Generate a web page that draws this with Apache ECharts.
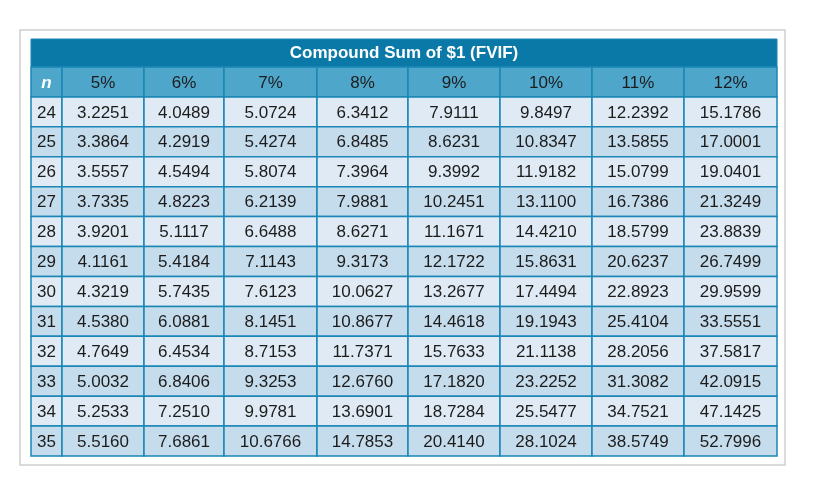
<!DOCTYPE html>
<html><head><meta charset="utf-8">
<script src="https://cdn.jsdelivr.net/npm/echarts@6/dist/echarts.min.js"></script>
<style>body{margin:0;background:#fff}#c{width:829px;height:492px}</style>
</head><body><div id="c"></div>
<script>
var rates = ['5%','6%','7%','8%','9%','10%','11%','12%'];
var periods = [24,25,26,27,28,29,30,31,32,33,34,35];
var r5  = ['3.2251','3.3864','3.5557','3.7335','3.9201','4.1161','4.3219','4.5380','4.7649','5.0032','5.2533','5.5160'];
var r6  = ['4.0489','4.2919','4.5494','4.8223','5.1117','5.4184','5.7435','6.0881','6.4534','6.8406','7.2510','7.6861'];
var r7  = ['5.0724','5.4274','5.8074','6.2139','6.6488','7.1143','7.6123','8.1451','8.7153','9.3253','9.9781','10.6766'];
var r8  = ['6.3412','6.8485','7.3964','7.9881','8.6271','9.3173','10.0627','10.8677','11.7371','12.6760','13.6901','14.7853'];
var r9  = ['7.9111','8.6231','9.3992','10.2451','11.1671','12.1722','13.2677','14.4618','15.7633','17.1820','18.7284','20.4140'];
var r10 = ['9.8497','10.8347','11.9182','13.1100','14.4210','15.8631','17.4494','19.1943','21.1138','23.2252','25.5477','28.1024'];
var r11 = ['12.2392','13.5855','15.0799','16.7386','18.5799','20.6237','22.8923','25.4104','28.2056','31.3082','34.7521','38.5749'];
var r12 = ['15.1786','17.0001','19.0401','21.3249','23.8839','26.7499','29.9599','33.5551','37.5817','42.0915','47.1425','52.7996'];
var columns = [r5, r6, r7, r8, r9, r10, r11, r12];

// relative column widths (n column narrow), used as edges on the value axis
var widths = [31, 82, 80, 93, 91, 92, 92, 92, 93];
var edges = [0];
widths.forEach(function (w, i) { edges.push(edges[i] + w); });

var cells = [];
cells.push([0, 0, 'n']);
rates.forEach(function (r, i) { cells.push([i + 1, 0, r]); });
periods.forEach(function (p, j) {
    cells.push([0, j + 1, String(p)]);
    columns.forEach(function (col, i) { cells.push([i + 1, j + 1, col[j]]); });
});

var chart = echarts.init(document.getElementById('c'));
chart.setOption({
    animation: false,
    graphic: [
        { type: 'rect', shape: { x: 20, y: 30, width: 765, height: 435 },
          style: { fill: '#fff', stroke: '#d0d0d0', lineWidth: 1.5 }, z: -10 },
        { type: 'rect', shape: { x: 31, y: 39, width: 746, height: 28 },
          style: { fill: '#0a79a8', stroke: '#1a86b5', lineWidth: 1 } },
        { type: 'text', x: 404, y: 53,
          style: { text: 'Compound Sum of $1 (FVIF)', fill: '#fff', font: 'bold 17px "Liberation Sans Narrow", "Liberation Sans", Arial',
                   align: 'center', verticalAlign: 'middle' } }
    ],
    grid: { left: 31, right: 52, top: 67, bottom: 36 },
    xAxis: { type: 'value', min: 0, max: edges[edges.length - 1], show: false },
    yAxis: { type: 'category', data: ['head'].concat(periods.map(String)), inverse: true, show: false },
    series: [{
        type: 'custom',
        data: cells,
        renderItem: function (params, api) {
            var c = api.value(0), r = api.value(1);
            var txt = cells[params.dataIndex][2];
            var p0 = api.coord([edges[c], r]);
            var p1 = api.coord([edges[c + 1], r]);
            var h = api.size([0, 1])[1];
            var fill = r === 0 ? '#4fa6cb' : (r % 2 === 1 ? '#dfeaf4' : '#c5dcec');
            var isN = r === 0 && c === 0;
            return {
                type: 'group',
                children: [
                    { type: 'rect', shape: { x: p0[0], y: p0[1] - h / 2, width: p1[0] - p0[0], height: h },
                      style: { fill: fill, stroke: '#1a86b5', lineWidth: 1.5 } },
                    { type: 'text', x: (p0[0] + p1[0]) / 2, y: p0[1] + 1,
                      style: { text: txt, align: 'center', verticalAlign: 'middle',
                               fill: isN ? '#fff' : '#1c1c1c',
                               font: (isN ? 'italic bold ' : '') + '17px "Liberation Sans", Arial' } }
                ]
            };
        }
    }]
});
</script></body></html>
